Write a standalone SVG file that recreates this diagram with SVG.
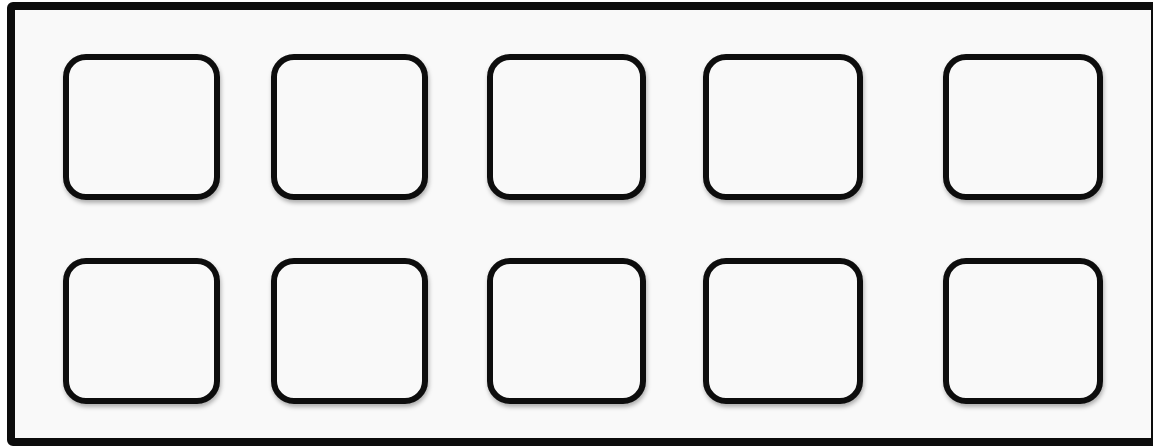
<svg xmlns="http://www.w3.org/2000/svg" width="1153" height="446" viewBox="0 0 1153 446">
<style>
.frame{fill:#f9f9f9;stroke:#0c0c0c;stroke-width:8}
.box{fill:#f9f9f9;stroke:#0c0c0c;stroke-width:6;filter:url(#sh)}
</style>
<defs>
<filter id="sh" x="-20%" y="-20%" width="140%" height="140%">
<feDropShadow dx="1" dy="3" stdDeviation="2" flood-color="#000" flood-opacity="0.3"/>
</filter>
</defs>
<rect width="1153" height="446" fill="#ffffff"/>
<g id="frame"><rect class="frame" x="11" y="6" width="1144" height="436" rx="2"/></g>
<g id="connectors"></g>
<g id="n1"><rect class="box" x="66" y="57" width="151" height="140" rx="20"/></g>
<g id="n2"><rect class="box" x="274" y="57" width="151" height="140" rx="20"/></g>
<g id="n3"><rect class="box" x="490" y="57" width="153" height="140" rx="20"/></g>
<g id="n4"><rect class="box" x="706" y="57" width="154" height="140" rx="20"/></g>
<g id="n5"><rect class="box" x="946" y="57" width="154" height="140" rx="20"/></g>
<g id="n6"><rect class="box" x="66" y="261" width="151" height="140" rx="20"/></g>
<g id="n7"><rect class="box" x="274" y="261" width="151" height="140" rx="20"/></g>
<g id="n8"><rect class="box" x="490" y="261" width="153" height="140" rx="20"/></g>
<g id="n9"><rect class="box" x="706" y="261" width="154" height="140" rx="20"/></g>
<g id="n10"><rect class="box" x="946" y="261" width="154" height="140" rx="20"/></g>
</svg>
